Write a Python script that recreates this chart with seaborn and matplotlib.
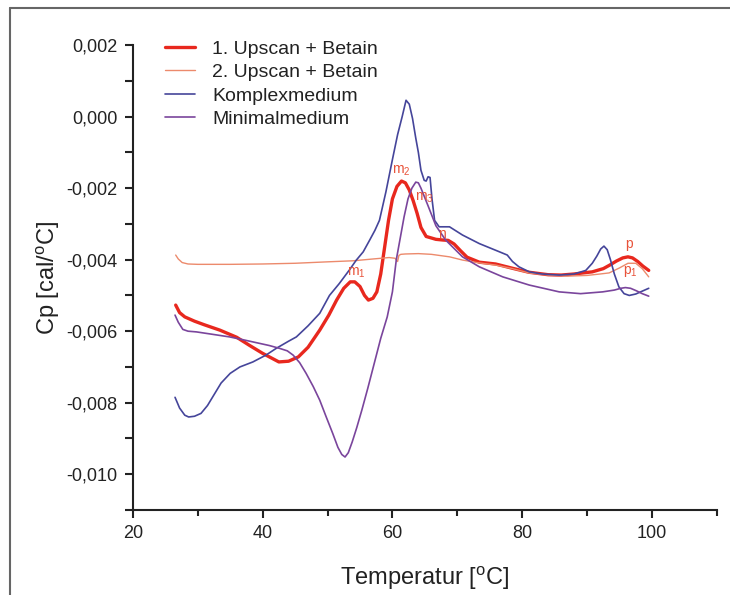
import matplotlib
matplotlib.use("Agg")
import matplotlib.pyplot as plt
import matplotlib.lines as mlines
from matplotlib.ticker import MultipleLocator, FuncFormatter
import seaborn as sns
import pandas as pd

# --- DSC scans: temperature [°C] and heat capacity Cp [cal/°C] ---
up1_t = [26.6, 27.2, 28.0, 29.5, 31.0, 33.4, 36.0, 38.0, 40.0, 42.5, 44.0, 45.5, 47.0,
         48.8, 50.2, 51.4, 52.5, 53.5, 54.2, 55.0, 55.7, 56.3, 57.0, 57.6, 58.2, 58.8,
         59.4, 60.0, 60.7, 61.4, 62.0, 62.6, 63.2, 63.8, 64.4, 65.2, 66.7, 67.8, 68.6,
         69.5, 70.5, 71.5, 73.4, 75.9, 78.5, 81.0, 84.0, 86.0, 88.0, 90.8, 92.5, 93.5,
         94.5, 95.5, 96.3, 97.0, 97.8, 98.6, 99.5]
up1_cp = [-0.00527, -0.00548, -0.00560, -0.00572, -0.00582, -0.00597, -0.00617, -0.00640,
          -0.00662, -0.00686, -0.00684, -0.00672, -0.00645, -0.00597, -0.00555, -0.00513,
          -0.00480, -0.00462, -0.00462, -0.00475, -0.00500, -0.00513, -0.00508, -0.00490,
          -0.00440, -0.00365, -0.00290, -0.00230, -0.00195, -0.00180, -0.00185, -0.00205,
          -0.00235, -0.00270, -0.00310, -0.00335, -0.00343, -0.00345, -0.00346, -0.00356,
          -0.00375, -0.00393, -0.00407, -0.00412, -0.00424, -0.00435, -0.00442, -0.00443,
          -0.00440, -0.00434, -0.00425, -0.00415, -0.00404, -0.00395, -0.00392, -0.00395,
          -0.00405, -0.00418, -0.00430]

up2_t = [26.6, 27.0, 27.6, 28.5, 30.0, 35.0, 40.0, 45.0, 50.0, 54.0, 57.0, 59.5, 60.4,
         60.8, 61.0, 61.3, 62.0, 64.0, 66.0, 68.8, 70.8, 73.0, 75.9, 78.5, 81.0, 84.0,
         87.0, 90.0, 92.0, 93.4, 95.0, 96.3, 97.5, 98.5, 99.5]
up2_cp = [-0.00387, -0.00398, -0.00408, -0.00412, -0.00413, -0.00413, -0.00412, -0.00410,
          -0.00406, -0.00403, -0.00398, -0.00394, -0.00396, -0.00405, -0.00388, -0.00385,
          -0.00384, -0.00383, -0.00385, -0.00392, -0.00401, -0.00408, -0.00415, -0.00425,
          -0.00437, -0.00443, -0.00446, -0.00444, -0.00440, -0.00437, -0.00423, -0.00410,
          -0.00410, -0.00425, -0.00448]

komplex_t = [26.5, 27.2, 28.0, 28.6, 29.5, 30.5, 31.5, 32.5, 33.6, 35.0, 36.5, 38.5, 40.5,
             42.1, 44.0, 45.2, 47.0, 48.8, 50.3, 51.8, 53.4, 54.4, 55.5, 56.5, 57.3, 58.0,
             59.0, 60.0, 60.8, 61.5, 62.1, 62.6, 63.1, 63.6, 64.0, 64.4, 64.9, 65.2, 65.5,
             65.8, 66.1, 66.5, 67.2, 68.8, 70.8, 73.4, 76.5, 77.7, 78.5, 79.5, 81.1, 83.0,
             85.7, 88.0, 89.8, 90.8, 91.5, 92.1, 92.6, 93.1, 93.6, 94.2, 94.9, 95.7, 96.5,
             97.5, 98.5, 99.5]
komplex_cp = [-0.00785, -0.00815, -0.00835, -0.00840, -0.00838, -0.00830, -0.00808, -0.00778,
              -0.00745, -0.00718, -0.00700, -0.00686, -0.00667, -0.00648, -0.00628, -0.00616,
              -0.00585, -0.00550, -0.00500, -0.00467, -0.00428, -0.00402, -0.00378, -0.00345,
              -0.00318, -0.00290, -0.00210, -0.00120, -0.00050, 0.00000, 0.00046, 0.00035,
              -0.00005, -0.00060, -0.00100, -0.00150, -0.00178, -0.00180, -0.00168, -0.00170,
              -0.00230, -0.00290, -0.00308, -0.00308, -0.00331, -0.00355, -0.00378, -0.00387,
              -0.00405, -0.00420, -0.00434, -0.00440, -0.00443, -0.00440, -0.00430, -0.00410,
              -0.00390, -0.00370, -0.00362, -0.00372, -0.00400, -0.00440, -0.00476, -0.00495,
              -0.00500, -0.00496, -0.00488, -0.00480]

minimal_t = [26.5, 27.0, 27.7, 28.5, 29.8, 32.0, 34.9, 37.0, 39.5, 41.0, 42.6, 43.8, 44.7,
             45.7, 46.7, 47.8, 48.8, 49.8, 50.8, 51.6, 52.2, 52.7, 53.2, 53.8, 54.5, 55.3,
             56.2, 57.2, 58.2, 59.2, 60.0, 60.6, 61.2, 61.8, 62.4, 63.0, 63.6, 64.0, 64.4,
             65.4, 66.7, 68.2, 70.8, 73.4, 77.0, 81.1, 85.7, 89.0, 92.4, 94.2, 95.2, 95.9,
             96.7, 97.6, 98.5, 99.5]
minimal_cp = [-0.00555, -0.00575, -0.00595, -0.00600, -0.00602, -0.00608, -0.00616, -0.00624,
              -0.00634, -0.00640, -0.00648, -0.00655, -0.00667, -0.00688, -0.00718, -0.00755,
              -0.00793, -0.00840, -0.00886, -0.00925, -0.00945, -0.00952, -0.00940, -0.00910,
              -0.00870, -0.00820, -0.00760, -0.00690, -0.00620, -0.00560, -0.00490, -0.00400,
              -0.00340, -0.00280, -0.00230, -0.00200, -0.00183, -0.00185, -0.00200, -0.00245,
              -0.00305, -0.00345, -0.00392, -0.00420, -0.00448, -0.00471, -0.00490, -0.00495,
              -0.00490, -0.00485, -0.00480, -0.00478, -0.00480, -0.00487, -0.00495, -0.00502]

series_names = ["1. Upscan + Betain", "2. Upscan + Betain", "Komplexmedium", "Minimalmedium"]

# peak labels: (text, temperature, Cp)
peak_labels = [("m$_1$", 54.5, -0.00438), ("m$_2$", 61.4, -0.00150),
               ("m$_3$", 64.9, -0.00226), ("n", 67.6, -0.00327),
               ("p", 96.5, -0.00355), ("p$_1$", 96.7, -0.00433)]

x_ticks = [20, 40, 60, 80, 100]
y_ticks = [0.002, 0.000, -0.002, -0.004, -0.006, -0.008, -0.010]

sns.set_theme(style="white")
plt.rcParams["font.family"] = ["Liberation Sans", "DejaVu Sans"]
plt.rcParams["mathtext.fontset"] = "custom"
plt.rcParams["mathtext.rm"] = "Liberation Sans"
plt.rcParams["mathtext.it"] = "Liberation Sans"
plt.rcParams["mathtext.bf"] = "Liberation Sans:bold"

colors = {"1. Upscan + Betain": "#e8281e",
          "2. Upscan + Betain": "#ec8a6c",
          "Komplexmedium": "#45459a",
          "Minimalmedium": "#7a459c"}
widths = {"1. Upscan + Betain": 2.4,
          "2. Upscan + Betain": 1.0,
          "Komplexmedium": 1.2,
          "Minimalmedium": 1.2}

frames = []
for name, t, cp in zip(series_names,
                       [up1_t, up2_t, komplex_t, minimal_t],
                       [up1_cp, up2_cp, komplex_cp, minimal_cp]):
    frames.append(pd.DataFrame({"T": t, "Cp": cp, "scan": name}))
df = pd.concat(frames, ignore_index=True)

fig = plt.figure(figsize=(7.3, 5.95), dpi=100)
ax = fig.add_axes([0.182, 0.143, 0.8, 0.781])

for name in series_names:
    sub = df[df["scan"] == name]
    sns.lineplot(data=sub, x="T", y="Cp", ax=ax, sort=False, estimator=None,
                 color=colors[name], linewidth=widths[name], legend=False)

for txt, tx, ty in peak_labels:
    ax.text(tx, ty, txt, color="#e8533a", fontsize=10, ha="center", va="center")

ax.set_xlim(20, 110)
ax.set_ylim(-0.011, 0.002)
ax.set_xticks(x_ticks)
ax.set_yticks(y_ticks)
ax.xaxis.set_minor_locator(MultipleLocator(10))
ax.yaxis.set_minor_locator(MultipleLocator(0.001))
ax.xaxis.set_major_formatter(FuncFormatter(lambda v, p: f"{v:.0f}"))
ax.yaxis.set_major_formatter(FuncFormatter(lambda v, p: f"{v:.3f}".replace(".", ",").replace("-0,000", "0,000")))

for s in ["top", "right"]:
    ax.spines[s].set_visible(False)
for s in ["left", "bottom"]:
    ax.spines[s].set_color("#222222")
    ax.spines[s].set_linewidth(1.5)

ax.tick_params(axis="both", which="major", direction="out", length=6, width=1.5,
               color="#222222", labelsize=13, labelcolor="#222222", pad=5,
               left=True, bottom=True)
ax.tick_params(axis="x", which="minor", direction="out", length=4, width=1.5,
               color="#222222", bottom=True)
ax.tick_params(axis="y", which="minor", direction="out", length=6, width=1.5,
               color="#222222", left=True)

ax.set_xlabel("Temperatur [$^{\\mathrm{o}}$C]", fontsize=17, color="#222222", labelpad=16)
ax.set_ylabel("Cp [cal/$^{\\mathrm{o}}$C]", fontsize=17, color="#222222", labelpad=3)

handles = [mlines.Line2D([], [], color=colors[n], linewidth=widths[n]) for n in series_names]
leg = ax.legend(handles, series_names, loc="upper left", bbox_to_anchor=(0.213, 0.949),
                bbox_transform=fig.transFigure, frameon=False, fontsize=14,
                handlelength=1.55, handletextpad=0.85, labelspacing=0.3, borderpad=0)
for t in leg.get_texts():
    t.set_color("#222222")

# page frame along the top and left edges
fig.add_artist(mlines.Line2D([10 / 730, 1.0], [1 - 8 / 595, 1 - 8 / 595],
                             transform=fig.transFigure, color="#666666", linewidth=1.5))
fig.add_artist(mlines.Line2D([10 / 730, 10 / 730], [0.0, 1 - 8 / 595],
                             transform=fig.transFigure, color="#666666", linewidth=1.5))

fig.savefig("out.png", dpi=100)
